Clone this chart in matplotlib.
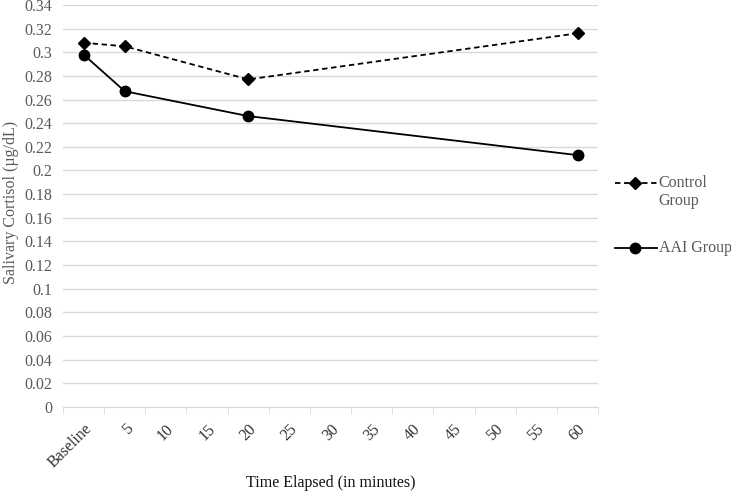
import numpy as np
import matplotlib.pyplot as plt
from matplotlib.lines import Line2D

plt.rcParams['font.family'] = ['Liberation Serif', 'DejaVu Serif']

categories = ["Baseline", "5", "10", "15", "20", "25", "30", "35", "40", "45", "50", "55", "60"]
obs_labels = ["Baseline", "5", "20", "60"]
control = [0.308, 0.305, 0.277, 0.316]
aai = [0.298, 0.267, 0.246, 0.213]
yticks = np.arange(0, 0.341, 0.02)

xpos = [categories.index(c) for c in obs_labels]
fs = 11.5

fig = plt.figure(figsize=(7.31, 4.91), dpi=100)
ax = fig.add_axes([0.0862, 0.171, 0.732, 0.819])

ctrl_style = dict(color="black", ls=(0, (3, 2)), lw=1.3, marker="D", ms=6.5)
aai_style = dict(color="black", ls="-", lw=1.3, marker="o", ms=7.5)
ax.plot(xpos, control, **ctrl_style)
ax.plot(xpos, aai, **aai_style)

ax.set_xlim(-0.5, len(categories) - 0.5)
ax.set_ylim(0, 0.34)
ax.set_yticks(yticks)
ax.set_yticklabels([f"{v:.2f}".rstrip("0").rstrip(".") if v > 0 else "0" for v in yticks])
ax.set_xticks(range(len(categories)))
ax.set_xticklabels(categories, rotation=45, ha="right", rotation_mode="anchor")
ax.set_xticks(np.arange(-0.5, len(categories)), minor=True)

ax.grid(axis="y", color="#d9d9d9", lw=1)
ax.set_axisbelow(True)
for s in ["top", "right", "left"]:
    ax.spines[s].set_visible(False)
ax.spines["bottom"].set_color("#d9d9d9")
ax.tick_params(axis="x", which="major", length=0, pad=10, labelsize=fs, labelcolor="#333333")
ax.tick_params(axis="x", which="minor", length=5, color="#d9d9d9")
ax.tick_params(axis="y", length=0, pad=8, labelsize=fs, labelcolor="#595959")

ax.set_ylabel("Salivary Cortisol (µg/dL)", fontsize=fs, color="#595959")
ax.yaxis.set_label_coords(-0.083, 0.51)
fig.text(0.452, 1 - 483 / 491, "Time Elapsed (in minutes)", fontsize=fs,
         ha="center", va="center", color="#111111")

# legend drawn by hand, handle aligned with the first text line
for yf, style, label in [(0.627, ctrl_style, "Control\nGroup"), (0.495, aai_style, "AAI Group")]:
    fig.add_artist(Line2D([0.841, 0.899], [yf, yf], transform=fig.transFigure,
                          color=style["color"], ls=style["ls"], lw=style["lw"]))
    fig.add_artist(Line2D([0.869], [yf], transform=fig.transFigure, ls="none",
                          color=style["color"], marker=style["marker"], ms=style["ms"]))
    fig.text(0.901, yf + 0.017, label, fontsize=fs, color="#595959",
             ha="left", va="top", linespacing=1.2)

fig.savefig("out.png", dpi=100)
